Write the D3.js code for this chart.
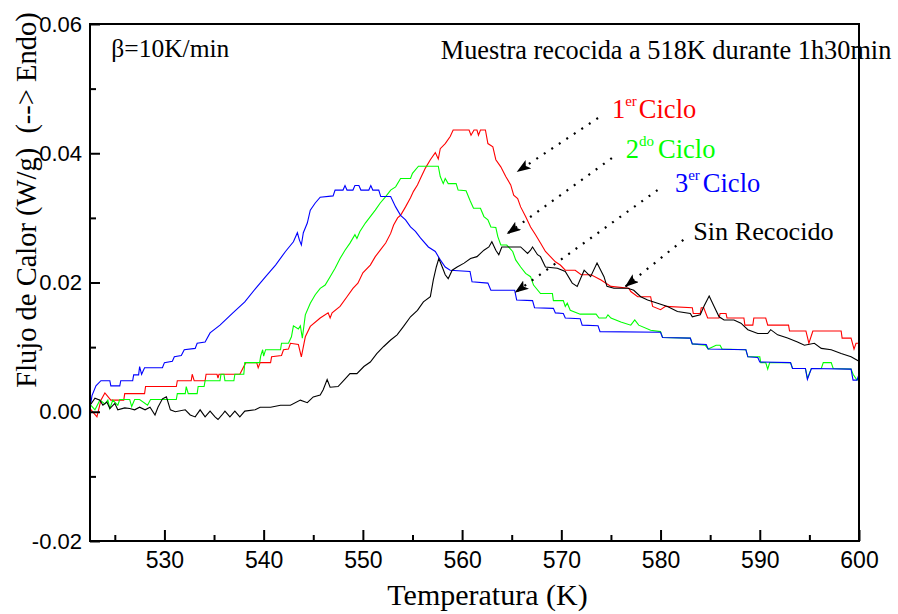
<!DOCTYPE html>
<html>
<head>
<meta charset="utf-8">
<script src="https://cdn.jsdelivr.net/npm/d3@7"></script>
<style>
body { margin:0; background:#fff; }
svg text { fill:#000; }
</style>
</head>
<body>
<svg id="graph"></svg>
<script>
// temperatura (K), flujo de calor (W/g)
var ciclo1 = [[522.5,0.0000],[522.6,0.0003],[523.2,-0.0008],[523.6,0.0018],[524.0,0.0029],[524.6,0.0018],[525.9,0.0018],[526.0,0.0028],[528.0,0.0028],[528.1,0.0039],[531.2,0.0039],[531.3,0.0048],[532.7,0.0048],[532.8,0.0058],[533.0,0.0048],[534.1,0.0048],[534.2,0.0058],[535.3,0.0058],[535.4,0.0052],[535.5,0.0058],[537.6,0.0058],[538.2,0.0076],[539.3,0.0076],[539.45,0.0068],[539.65,0.0076],[540.7,0.0076],[540.8,0.0085],[541.8,0.0087],[542.0,0.0096],[542.5,0.0097],[542.7,0.0106],[543.5,0.0104],[543.8,0.0085],[544.2,0.0116],[544.7,0.0132],[545.7,0.0145],[546.5,0.0153],[546.7,0.0145],[546.9,0.0153],[547.7,0.0163],[548.4,0.0178],[549.0,0.0191],[549.5,0.0199],[550.0,0.0215],[550.75,0.0227],[551.25,0.0240],[551.75,0.0250],[552.3,0.0261],[552.8,0.0276],[553.1,0.0289],[553.5,0.0300],[553.8,0.0304],[554.3,0.0317],[554.8,0.0331],[555.1,0.0341],[555.5,0.0351],[555.8,0.0361],[556.3,0.0377],[556.8,0.0390],[557.3,0.0401],[557.6,0.0391],[557.8,0.0407],[558.3,0.0415],[558.8,0.0426],[559.1,0.0436],[560.7,0.0436],[560.9,0.0428],[561.2,0.0436],[561.5,0.0436],[561.65,0.0428],[561.85,0.0436],[562.35,0.0436],[562.6,0.0415],[563.1,0.0410],[563.4,0.0390],[563.9,0.0379],[564.4,0.0364],[564.9,0.0351],[565.2,0.0335],[565.6,0.0330],[565.9,0.0317],[566.4,0.0302],[566.9,0.0286],[567.4,0.0274],[567.9,0.0261],[568.4,0.0248],[568.9,0.0240],[569.4,0.0232],[569.9,0.0227],[570.4,0.0219],[571.4,0.0219],[572.0,0.0212],[573.0,0.0212],[574.0,0.0204],[575.0,0.0194],[576.8,0.0191],[577.0,0.0186],[577.7,0.0178],[579.0,0.0178],[579.2,0.0163],[580.0,0.0158],[580.5,0.0163],[583.2,0.0161],[583.3,0.0152],[584.0,0.0152],[584.1,0.0161],[584.35,0.0161],[584.75,0.0145],[585.9,0.0145],[586.0,0.0152],[586.6,0.0152],[586.7,0.0145],[588.4,0.0145],[588.5,0.0134],[589.3,0.0134],[589.4,0.0145],[590.6,0.0145],[590.8,0.0134],[592.9,0.0134],[593.0,0.0125],[594.65,0.0125],[594.95,0.0106],[595.35,0.0125],[598.2,0.0125],[598.3,0.0114],[599.2,0.0114],[599.5,0.0097],[599.7,0.0106],[600.0,0.0106]];

var ciclo2 = [[522.5,0.0012],[522.6,0.0010],[523.0,0.0003],[523.3,0.0012],[523.5,0.0018],[524.0,0.0012],[524.3,0.0018],[524.5,0.0005],[524.8,0.0018],[525.3,0.0010],[525.5,0.0019],[526.5,0.0019],[526.7,0.0008],[527.0,0.0019],[527.5,0.0019],[528.3,0.0010],[528.6,0.0019],[531.2,0.0019],[531.3,0.0028],[532.1,0.0028],[532.2,0.0039],[532.4,0.0028],[533.3,0.0028],[533.4,0.0039],[534.0,0.0039],[534.1,0.0048],[535.6,0.0048],[535.7,0.0058],[536.0,0.0058],[536.1,0.0048],[537.0,0.0048],[537.1,0.0058],[538.0,0.0058],[538.1,0.0076],[539.6,0.0076],[539.7,0.0086],[539.9,0.0096],[540.0,0.0086],[540.2,0.0096],[541.7,0.0096],[541.8,0.0106],[542.5,0.0106],[542.8,0.0116],[543.0,0.0133],[543.5,0.0128],[543.7,0.0133],[543.9,0.0114],[544.2,0.0150],[544.7,0.0168],[545.2,0.0181],[545.7,0.0191],[546.2,0.0196],[546.7,0.0209],[547.2,0.0222],[547.7,0.0237],[548.2,0.0250],[548.7,0.0261],[549.2,0.0274],[549.4,0.0268],[549.7,0.0279],[550.25,0.0292],[550.75,0.0302],[551.25,0.0312],[551.75,0.0323],[552.3,0.0333],[552.8,0.0343],[553.3,0.0348],[553.8,0.0361],[554.8,0.0361],[555.0,0.0369],[555.6,0.0380],[557.6,0.0380],[557.8,0.0364],[558.1,0.0353],[558.3,0.0361],[558.6,0.0353],[559.4,0.0353],[559.6,0.0343],[560.4,0.0342],[560.8,0.0327],[561.15,0.0315],[561.85,0.0315],[562.2,0.0302],[562.6,0.0297],[562.9,0.0286],[563.4,0.0285],[563.6,0.0271],[563.9,0.0258],[564.5,0.0258],[565.1,0.0248],[565.4,0.0235],[565.9,0.0224],[566.4,0.0214],[566.9,0.0209],[567.2,0.0196],[567.9,0.0183],[569.1,0.0183],[569.2,0.0172],[570.2,0.0172],[570.4,0.0163],[570.6,0.0168],[570.9,0.0157],[571.9,0.0151],[573.5,0.0151],[573.8,0.0145],[574.5,0.0145],[574.7,0.0150],[575.0,0.0145],[576.0,0.0139],[577.0,0.0134],[577.4,0.0142],[577.8,0.0134],[579.0,0.0126],[580.0,0.0124],[580.2,0.0115],[583.0,0.0114],[583.2,0.0105],[584.5,0.0103],[584.8,0.0097],[585.6,0.0103],[586.0,0.0103],[586.2,0.0097],[588.6,0.0096],[588.8,0.0085],[590.0,0.0085],[590.1,0.0076],[590.6,0.0076],[590.8,0.0066],[591.0,0.0076],[593.1,0.0076],[593.3,0.0067],[594.6,0.0067],[594.8,0.0052],[595.2,0.0067],[596.2,0.0067],[596.4,0.0076],[597.2,0.0076],[597.4,0.0067],[599.2,0.0066],[599.4,0.0058],[599.8,0.0049],[600.0,0.0052]];

var ciclo3 = [[522.5,0.0005],[522.7,0.0025],[523.1,0.0040],[523.6,0.0048],[524.5,0.0048],[524.6,0.0040],[525.5,0.0040],[525.6,0.0048],[526.8,0.0048],[526.9,0.0057],[527.4,0.0057],[527.5,0.0070],[527.7,0.0058],[528.0,0.0068],[529.8,0.0068],[530.0,0.0076],[530.8,0.0078],[531.0,0.0085],[531.7,0.0087],[532.0,0.0096],[533.1,0.0098],[533.3,0.0106],[534.1,0.0108],[534.6,0.0122],[535.6,0.0134],[536.9,0.0153],[538.1,0.0170],[539.2,0.0191],[540.2,0.0209],[541.2,0.0227],[542.2,0.0248],[543.0,0.0263],[543.4,0.0277],[543.6,0.0266],[543.8,0.0258],[544.0,0.0277],[544.4,0.0292],[544.7,0.0312],[545.2,0.0323],[545.7,0.0332],[547.0,0.0334],[547.2,0.0343],[548.0,0.0343],[548.2,0.0350],[548.4,0.0343],[549.0,0.0343],[549.2,0.0350],[549.6,0.0350],[549.8,0.0343],[550.6,0.0343],[550.8,0.0350],[551.0,0.0343],[551.6,0.0343],[551.8,0.0333],[552.8,0.0333],[553.3,0.0317],[553.8,0.0304],[554.3,0.0297],[554.8,0.0286],[555.3,0.0279],[555.8,0.0269],[556.6,0.0255],[557.3,0.0248],[557.8,0.0235],[558.3,0.0224],[558.8,0.0219],[560.8,0.0217],[561.0,0.0201],[562.6,0.0199],[562.9,0.0188],[565.3,0.0188],[565.5,0.0173],[567.1,0.0172],[567.3,0.0161],[569.2,0.0160],[569.4,0.0153],[570.2,0.0152],[570.4,0.0145],[571.9,0.0144],[572.1,0.0134],[573.7,0.0133],[573.9,0.0124],[580.0,0.0123],[580.2,0.0115],[583.0,0.0114],[583.2,0.0105],[584.6,0.0104],[584.8,0.0097],[588.6,0.0096],[588.8,0.0085],[589.8,0.0084],[590.0,0.0077],[593.1,0.0076],[593.3,0.0067],[594.6,0.0067],[594.8,0.0050],[595.2,0.0067],[599.2,0.0066],[599.4,0.0049],[599.8,0.0049],[600.0,0.0058]];

var sinRecocido = [[522.6,0.0012],[523.0,0.0021],[523.5,0.0018],[523.8,0.0010],[524.2,0.0015],[524.5,0.0005],[525.0,0.0013],[525.3,0.0003],[526.0,0.0006],[526.5,0.0005],[527.0,0.0003],[527.5,0.0007],[528.05,0.0003],[528.55,0.0007],[529.05,-0.0005],[529.35,0.0007],[529.8,0.0020],[530.2,0.0023],[530.6,0.0003],[531.1,0.0000],[532.1,0.0003],[532.6,-0.0005],[533.1,-0.0008],[533.6,0.0003],[534.1,-0.0008],[534.6,0.0001],[535.1,-0.0008],[535.4,-0.0012],[535.8,-0.0005],[536.1,0.0001],[536.6,-0.0008],[537.1,0.0001],[537.6,-0.0008],[538.1,0.0001],[539.15,0.0003],[539.65,0.0007],[540.7,0.0007],[541.7,0.0010],[542.7,0.0010],[543.7,0.0018],[544.4,0.0014],[545.0,0.0023],[545.7,0.0026],[546.0,0.0034],[546.4,0.0050],[546.7,0.0038],[547.5,0.0039],[548.1,0.0049],[548.7,0.0059],[549.4,0.0059],[550.1,0.0070],[550.75,0.0077],[551.4,0.0090],[552.1,0.0101],[552.8,0.0111],[553.45,0.0119],[554.1,0.0132],[554.8,0.0147],[555.5,0.0157],[556.1,0.0170],[556.8,0.0178],[557.1,0.0204],[557.4,0.0224],[557.65,0.0237],[558.0,0.0224],[558.3,0.0212],[558.6,0.0206],[559.0,0.0219],[559.5,0.0224],[560.2,0.0230],[560.85,0.0237],[561.5,0.0240],[562.2,0.0250],[562.7,0.0255],[563.0,0.0263],[563.4,0.0250],[563.7,0.0243],[564.0,0.0255],[564.4,0.0255],[565.9,0.0255],[566.6,0.0245],[566.9,0.0250],[567.1,0.0255],[567.6,0.0243],[567.9,0.0240],[568.4,0.0224],[569.6,0.0222],[570.4,0.0217],[571.1,0.0199],[571.6,0.0194],[572.3,0.0219],[572.95,0.0209],[573.6,0.0230],[574.3,0.0209],[574.6,0.0194],[575.3,0.0191],[576.7,0.0191],[577.3,0.0188],[578.0,0.0178],[578.7,0.0173],[579.7,0.0168],[580.7,0.0163],[581.7,0.0155],[583.0,0.0152],[583.2,0.0147],[584.0,0.0150],[584.4,0.0164],[584.9,0.0179],[585.4,0.0163],[585.9,0.0147],[586.4,0.0142],[587.4,0.0142],[588.1,0.0137],[588.8,0.0127],[589.8,0.0121],[590.8,0.0121],[591.1,0.0127],[591.8,0.0119],[592.8,0.0114],[593.8,0.0108],[594.5,0.0103],[595.5,0.0106],[596.2,0.0098],[597.2,0.0096],[598.2,0.0090],[599.2,0.0085],[600.0,0.0078]];

var xTicks = [530,540,550,560,570,580,590,600];
var xMinor = [525,535,545,555,565,575,585,595];
var yTicks = [-0.02,0.00,0.02,0.04,0.06];
var yMinor = [-0.01,0.01,0.03,0.05];

// flechas punteadas: desde la etiqueta hasta la curva (T, flujo)
var flechas = [
    {x1:573.7,y1:0.04545,x2:565.5,y2:0.0371},
    {x1:575.1,y1:0.03926,x2:564.5,y2:0.0275},
    {x1:579.7,y1:0.03431,x2:565.3,y2:0.0184},
    {x1:582.3,y1:0.02658,x2:576.4,y2:0.0193}
];

var series = [
    {data:ciclo1,color:"#ff0000"},
    {data:ciclo2,color:"#00ff00"},
    {data:ciclo3,color:"#0000ff"},
    {data:sinRecocido,color:"#000000"}
];

var SERIF = "'Liberation Serif','Times New Roman',serif";
var SANS = "'Liberation Sans',Arial,sans-serif";

var screen = {width:898,height:614};
var margins = {left:90,right:39,top:24,bottom:73};
var graph = {
    width:screen.width-margins.left-margins.right,
    height:screen.height-margins.top-margins.bottom
};

var svg = d3.select("#graph")
    .attr("width",screen.width)
    .attr("height",screen.height);

var xScale = d3.scaleLinear()
    .domain([522.5,600])
    .range([margins.left,margins.left+graph.width]);

var yScale = d3.scaleLinear()
    .domain([-0.02,0.06])
    .range([margins.top+graph.height,margins.top]);

var drawLines = function()
{
    var line = d3.line()
        .x(function(d){return xScale(d[0])})
        .y(function(d){return yScale(d[1])});

    svg.append("g")
        .selectAll("path")
        .data(series)
        .enter()
        .append("path")
        .attr("d",function(s){return line(s.data)})
        .attr("fill","none")
        .attr("stroke",function(s){return s.color})
        .attr("stroke-width",1.1);
}

var drawAxes = function()
{
    var bottom = margins.top+graph.height;

    var xAxis = d3.axisBottom(xScale).tickValues(xTicks).tickSize(-11).tickPadding(11).tickFormat(d3.format("d"));
    var xAxisMinor = d3.axisBottom(xScale).tickValues(xMinor).tickSize(-6).tickFormat("");
    var yAxis = d3.axisLeft(yScale).tickValues(yTicks).tickSize(-10).tickPadding(8)
        .tickFormat(function(d){return d.toFixed(2)});
    var yAxisMinor = d3.axisLeft(yScale).tickValues(yMinor).tickSize(-6).tickFormat("");

    var axes = svg.append("g");

    axes.append("g")
        .attr("transform","translate(0,"+bottom+")")
        .call(xAxisMinor);
    axes.append("g")
        .attr("transform","translate(0,"+bottom+")")
        .call(xAxis)
        .selectAll("text").attr("font-size",23).attr("font-family",SANS);
    axes.append("g")
        .attr("transform","translate("+margins.left+",0)")
        .call(yAxisMinor);
    axes.append("g")
        .attr("transform","translate("+margins.left+",0)")
        .call(yAxis)
        .selectAll("text").attr("font-size",22).attr("font-family",SANS);

    axes.selectAll(".domain").remove();
    axes.selectAll(".tick line").attr("stroke","#000").attr("stroke-width",2);

    // marco
    svg.append("rect")
        .attr("x",margins.left)
        .attr("y",margins.top)
        .attr("width",graph.width)
        .attr("height",graph.height)
        .attr("fill","none")
        .attr("stroke","#000")
        .attr("stroke-width",2);
}

var drawLabels = function()
{
    var labels = svg.append("g");

    //x-axis
    labels.append("text")
        .text("Temperatura (K)")
        .attr("font-family",SERIF)
        .attr("text-anchor","middle")
        .attr("font-size",30)
        .attr("x",margins.left+graph.width/2+13)
        .attr("y",605);

    //y-axis
    labels.append("g")
        .attr("transform","translate(36,"+200+")")
        .append("text")
        .text("Flujo de Calor (W/g)  (--> Endo)")
        .attr("font-family",SERIF)
        .style("white-space","pre")
        .attr("text-anchor","middle")
        .attr("font-size",28.5)
        .attr("transform","rotate(270)");

    labels.append("text")
        .text("\u03b2=10K/min")
        .attr("font-family",SERIF)
        .attr("font-size",25.5)
        .attr("x",xScale(524.65))
        .attr("y",yScale(0.0549));

    labels.append("text")
        .text("Muestra recocida a 518K durante 1h30min")
        .attr("font-family",SERIF)
        .attr("font-size",26.3)
        .attr("x",xScale(557.85))
        .attr("y",yScale(0.05458));

    var ciclos = [
        {n:"1",sup:"er",color:"#ff0000",x:575.1,y:0.04545,dx:2},
        {n:"2",sup:"do",color:"#00ff00",x:576.5,y:0.03926,dx:4},
        {n:"3",sup:"er",color:"#0000ff",x:581.45,y:0.0340,dx:3}
    ];

    var t = labels.selectAll(".ciclo")
        .data(ciclos)
        .enter()
        .append("text")
        .classed("ciclo",true)
        .attr("font-family",SERIF)
        .attr("font-size",26.5)
        .attr("x",function(c){return xScale(c.x)})
        .attr("y",function(c){return yScale(c.y)})
        .style("fill",function(c){return c.color});
    t.append("tspan").text(function(c){return c.n});
    t.append("tspan").text(function(c){return c.sup}).attr("font-size",15).attr("dy",-12);
    t.append("tspan").text("Ciclo").attr("dy",12).attr("dx",function(c){return c.dx});

    labels.append("text")
        .text("Sin Recocido")
        .attr("font-family",SERIF)
        .attr("font-size",26.2)
        .attr("x",xScale(583.3))
        .attr("y",yScale(0.02658));
}

var drawArrows = function()
{
    svg.append("defs")
        .append("marker")
        .attr("id","punta")
        .attr("viewBox","0 0 14 10")
        .attr("refX",14)
        .attr("refY",5)
        .attr("markerWidth",14)
        .attr("markerHeight",10)
        .attr("markerUnits","userSpaceOnUse")
        .attr("orient","auto")
        .append("path")
        .attr("d","M0,0 L14,5 L0,10 L3,5 Z")
        .attr("fill","#000");

    svg.append("g")
        .selectAll("line")
        .data(flechas)
        .enter()
        .append("line")
        .attr("x1",function(f){return xScale(f.x1)})
        .attr("y1",function(f){return yScale(f.y1)})
        .attr("x2",function(f){return xScale(f.x2)})
        .attr("y2",function(f){return yScale(f.y2)})
        .attr("stroke","#000")
        .attr("stroke-width",2.2)
        .attr("stroke-dasharray","2,7")
        .attr("marker-end","url(#punta)");
}

drawLines();
drawAxes();
drawArrows();
drawLabels();
</script>
</body>
</html>
